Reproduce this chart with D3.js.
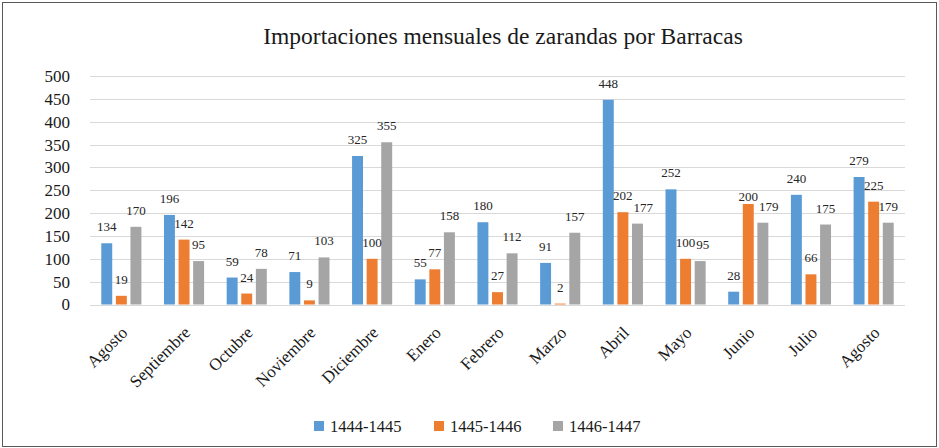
<!DOCTYPE html>
<html>
<head>
<meta charset="utf-8">
<script src="https://cdn.jsdelivr.net/npm/d3@7"></script>
<style>
  html, body { margin: 0; padding: 0; background: #fff; }
  svg { display: block; }
  svg text { font-family: "Liberation Serif", "Times New Roman", serif !important; }
</style>
</head>
<body>
<svg id="chart" width="939" height="448"></svg>
<script>
const title = "Importaciones mensuales de zarandas por Barracas";
const months = ["Agosto","Septiembre","Octubre","Noviembre","Diciembre","Enero","Febrero","Marzo","Abril","Mayo","Junio","Julio","Agosto"];
const seriesNames = ["1444-1445","1445-1446","1446-1447"];
const values1444 = [134,196,59,71,325,55,180,91,448,252,28,240,279];
const values1445 = [19,142,24,9,100,77,27,2,202,100,220,66,225];
const labels1445 = [19,142,24,9,100,77,27,2,202,100,200,66,225];
const values1446 = [170,95,78,103,355,158,112,157,177,95,179,175,179];
const yTicks = [0,50,100,150,200,250,300,350,400,450,500];
const colors = ["#5B9BD5","#ED7D31","#A5A5A5"];

const series = [
  {name: seriesNames[0], values: values1444, labels: values1444},
  {name: seriesNames[1], values: values1445, labels: labels1445},
  {name: seriesNames[2], values: values1446, labels: values1446}
];

const svg = d3.select("#chart");
const W = 939, H = 448;
const plot = {left: 90, right: 905, top: 76, bottom: 304.5};
const textColor = "#1a1a1a";

svg.append("rect").attr("x", 2.5).attr("y", 2.5).attr("width", W - 5).attr("height", H - 4)
  .attr("fill", "#fff").attr("stroke", "#595959").attr("stroke-width", 1);

svg.append("text").attr("x", 503).attr("y", 44).attr("text-anchor", "middle")
  .attr("font-size", 23.5).attr("fill", textColor).text(title);

const y = d3.scaleLinear().domain([0, 500]).range([plot.bottom, plot.top]);
const idx = months.map((m, i) => i);
const x0 = d3.scaleBand().domain(idx).range([plot.left, plot.right]).paddingInner(0.36).paddingOuter(0.18);
const x1 = d3.scaleBand().domain([0,1,2]).range([0, x0.bandwidth()]).paddingInner(0.25);

svg.append("g").selectAll("line").data(yTicks).join("line")
  .attr("x1", plot.left).attr("x2", plot.right)
  .attr("y1", d => Math.round(y(d)) + 0.5).attr("y2", d => Math.round(y(d)) + 0.5)
  .attr("stroke", "#D9D9D9").attr("stroke-width", 1);

const yAxis = d3.axisLeft(y).tickValues(yTicks).tickSize(0).tickPadding(0);
const gy = svg.append("g").attr("transform", `translate(70,0)`).call(yAxis);
gy.select(".domain").remove();
gy.selectAll("text").attr("font-size", 17).attr("fill", textColor);

const groups = svg.append("g").selectAll("g").data(idx).join("g")
  .attr("transform", i => `translate(${x0(i)},0)`);
groups.selectAll("rect").data(i => series.map((s, k) => ({k, v: s.values[i], l: s.labels[i]}))).join("rect")
  .attr("x", d => x1(d.k)).attr("width", x1.bandwidth())
  .attr("y", d => y(d.v)).attr("height", d => y(0) - y(d.v))
  .attr("fill", d => colors[d.k]);

// data labels with simple collision avoidance (push right)
groups.each(function(i) {
  const g = d3.select(this);
  const items = series.map((s, k) => ({k, v: s.values[i], l: s.labels[i]}));
  let prev = null;
  items.forEach(d => {
    const t = g.append("text")
      .attr("x", x1(d.k) + x1.bandwidth() / 2)
      .attr("y", y(d.l) - 12)
      .attr("text-anchor", "middle").attr("font-size", 13).attr("fill", "#262626")
      .text(d.l);
    let b = t.node().getBBox();
    if (prev && b.x < prev.x + prev.width + 1 && b.y < prev.y + prev.height - 2 && b.y + b.height > prev.y + 2) {
      const shift = prev.x + prev.width + 1 - b.x;
      t.attr("x", +t.attr("x") + shift);
      b = t.node().getBBox();
    }
    prev = b;
  });
});

const xAxis = d3.axisBottom(x0).tickSize(0).tickFormat(i => months[i]);
const gx = svg.append("g").attr("transform", `translate(0,${plot.bottom})`).call(xAxis);
gx.select(".domain").remove();
gx.selectAll("text")
  .attr("font-size", 17).attr("fill", textColor)
  .attr("text-anchor", "end")
  .attr("transform", "translate(3,25) rotate(-45)")
  .attr("dy", "0.35em").attr("y", 0);

const legendX = [314, 434, 553];
const lg = svg.append("g").selectAll("g").data(series).join("g")
  .attr("transform", (d, i) => `translate(${legendX[i]},421)`);
lg.append("rect").attr("width", 10).attr("height", 10).attr("fill", (d, i) => colors[i]);
lg.append("text").attr("x", 16).attr("y", 11).attr("font-size", 16.5).attr("fill", textColor).text(d => d.name);
</script>
</body>
</html>
